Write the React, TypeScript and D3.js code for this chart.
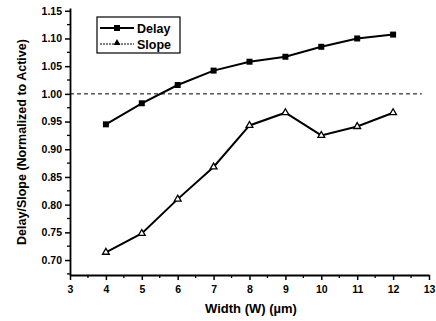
import React, { useEffect, useRef } from 'react';
import * as d3 from 'd3';

const widths = [4, 5, 6, 7, 8, 9, 10, 11, 12];
const delayValues = [0.945, 0.983, 1.016, 1.042, 1.058, 1.067, 1.085, 1.1, 1.107];
const slopeValues = [0.714, 0.748, 0.81, 0.868, 0.943, 0.966, 0.925, 0.941, 0.966];
const xTicks = [3, 4, 5, 6, 7, 8, 9, 10, 11, 12, 13];
const yTicks = [0.7, 0.75, 0.8, 0.85, 0.9, 0.95, 1.0, 1.05, 1.1, 1.15];
const refLevel = 1.0;

const FONT = "'Liberation Sans', Arial, sans-serif";

const App = () => {
  const svgRef = useRef<SVGSVGElement>(null);

  useEffect(() => {
    const svg = d3.select(svgRef.current);
    svg.selectAll('*').remove();

    const x = d3.scaleLinear().domain([3, 13]).range([70, 429]);
    const y = d3.scaleLinear().domain([0.673, 1.155]).range([275, 8]);

    // axes
    const xAxis = svg.append('g')
      .attr('transform', `translate(0,${y.range()[0]})`)
      .call(d3.axisBottom(x).tickValues(xTicks).tickSize(5).tickSizeOuter(0).tickFormat(d3.format('d')));
    xAxis.select('.domain').attr('stroke-width', 1.8);
    xAxis.selectAll('.tick line').attr('stroke-width', 1.5);
    xAxis.selectAll('.tick text')
      .attr('font-family', FONT).attr('font-weight', 'bold').attr('font-size', 10.5).attr('dy', '0.95em');

    // minor x ticks
    svg.append('g').selectAll('line')
      .data(d3.range(3.5, 13, 1))
      .enter().append('line')
      .attr('x1', d => x(d)).attr('x2', d => x(d))
      .attr('y1', y.range()[0]).attr('y2', y.range()[0] + 3)
      .attr('stroke', '#000').attr('stroke-width', 1.3);

    const yAxis = svg.append('g')
      .attr('transform', `translate(${x.range()[0]},0)`)
      .call(d3.axisLeft(y).tickValues(yTicks).tickSize(5).tickSizeOuter(0).tickFormat(d3.format('.2f')));
    yAxis.select('.domain').attr('stroke-width', 1.8);
    yAxis.selectAll('.tick line').attr('stroke-width', 1.5);
    yAxis.selectAll('.tick text')
      .attr('font-family', FONT).attr('font-weight', 'bold').attr('font-size', 10.5);

    // minor y ticks
    svg.append('g').selectAll('line')
      .data(d3.range(0.675, 1.15, 0.05))
      .enter().append('line')
      .attr('x1', x.range()[0] - 3).attr('x2', x.range()[0])
      .attr('y1', d => y(d)).attr('y2', d => y(d))
      .attr('stroke', '#000').attr('stroke-width', 1.3);

    // reference line at 1.00
    svg.append('line')
      .attr('x1', x(3)).attr('x2', x(12.8))
      .attr('y1', y(refLevel)).attr('y2', y(refLevel))
      .attr('stroke', '#000').attr('stroke-width', 1)
      .attr('stroke-dasharray', '4,3');

    const line = d3.line<number>()
      .x((_, i) => x(widths[i]))
      .y(d => y(d));

    // delay
    svg.append('path')
      .datum(delayValues)
      .attr('fill', 'none').attr('stroke', '#000').attr('stroke-width', 2)
      .attr('d', line);
    svg.append('g').selectAll('rect')
      .data(delayValues)
      .enter().append('rect')
      .attr('x', (_, i) => x(widths[i]) - 3)
      .attr('y', d => y(d) - 3)
      .attr('width', 6).attr('height', 6)
      .attr('fill', '#000');

    // slope
    svg.append('path')
      .datum(slopeValues)
      .attr('fill', 'none').attr('stroke', '#000').attr('stroke-width', 2)
      .attr('d', line);
    const tri = d3.symbol().type(d3.symbolTriangle).size(20);
    svg.append('g').selectAll('path')
      .data(slopeValues)
      .enter().append('path')
      .attr('transform', (d, i) => `translate(${x(widths[i])},${y(d)})`)
      .attr('d', tri)
      .attr('fill', '#fff').attr('stroke', '#000').attr('stroke-width', 1.3);

    // legend
    const lg = svg.append('g');
    lg.append('rect')
      .attr('x', 97).attr('y', 17).attr('width', 83).attr('height', 36)
      .attr('fill', '#fff').attr('stroke', '#000').attr('stroke-width', 1.2);
    lg.append('line')
      .attr('x1', 100).attr('x2', 134).attr('y1', 28).attr('y2', 28)
      .attr('stroke', '#000').attr('stroke-width', 2);
    lg.append('rect')
      .attr('x', 114).attr('y', 25).attr('width', 6).attr('height', 6).attr('fill', '#000');
    lg.append('text')
      .attr('x', 137).attr('y', 32.5)
      .attr('font-family', FONT).attr('font-weight', 'bold').attr('font-size', 12.5)
      .text('Delay');
    lg.append('line')
      .attr('x1', 100).attr('x2', 134).attr('y1', 44).attr('y2', 44)
      .attr('stroke', '#000').attr('stroke-width', 1.2).attr('stroke-dasharray', '2,1');
    lg.append('path')
      .attr('transform', 'translate(117,43)')
      .attr('d', tri)
      .attr('fill', '#000');
    lg.append('text')
      .attr('x', 137).attr('y', 48.5)
      .attr('font-family', FONT).attr('font-weight', 'bold').attr('font-size', 12.5)
      .text('Slope');

    // axis labels
    svg.append('text')
      .attr('x', 251)
      .attr('y', 313)
      .attr('text-anchor', 'middle')
      .attr('font-family', FONT).attr('font-weight', 'bold').attr('font-size', 13)
      .text('Width (W) (\u00b5m)');

    svg.append('text')
      .attr('transform', 'rotate(-90)')
      .attr('x', -142)
      .attr('y', 26)
      .attr('text-anchor', 'middle')
      .attr('font-family', FONT).attr('font-weight', 'bold').attr('font-size', 12.5)
      .text('Delay/Slope (Normalized to Active)');
  }, []);

  return (
    <svg
      ref={svgRef}
      width={436}
      height={321}
      style={{ position: 'absolute', left: 0, top: 0, background: '#fff' }}
    />
  );
};

export default App;
